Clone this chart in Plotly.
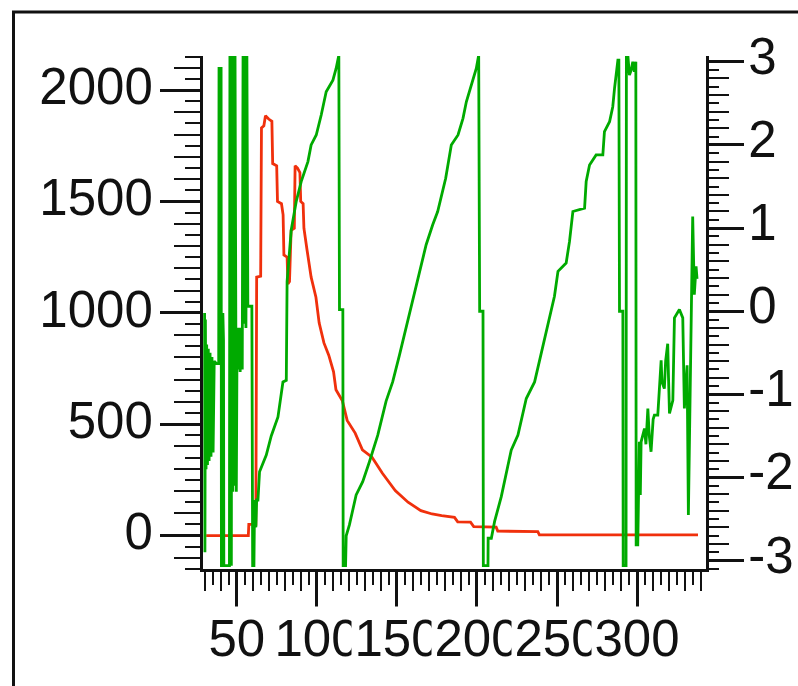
import plotly.graph_objects as go

# Intensity trace (left axis)
red_x = [31, 57.3, 57.6, 62.0, 62.5, 65.0, 65.5, 67, 68, 70, 72, 72.5, 75, 75.5, 78, 79, 79.5,
         81.5, 82, 83, 84, 86, 86.5, 88, 89.5, 90, 91.5, 92, 94, 96.5, 99.5, 101.5, 104.5,
         107.5, 110.5, 112, 116, 119, 124, 128.5, 134.5, 141, 149, 157, 165, 172, 178, 186,
         188, 196, 198, 212, 213, 238, 239, 338]
red_y = [0, 0, 50, 50, 1160, 1165, 1830, 1840, 1885, 1870, 1860, 1670, 1660, 1500, 1490, 1440,
         1260, 1250, 1130, 1140, 1370, 1380, 1660, 1650, 1630, 1500, 1490, 1380, 1280, 1160,
         1070, 955, 865, 810, 735, 655, 605, 517, 460, 385, 352, 280, 202, 150, 112, 97, 90,
         82, 62, 60, 40, 38, 20, 18, 3, 3]

# Wrapped phase trace (right axis, radians)
green_x = [30.0, 30.2, 30.5, 30.9, 31.3, 31.8, 32.3, 32.8, 33.4, 34.0, 34.6, 35.3, 36.0, 37.5,
           38.8, 39.0, 40.3, 40.5, 41.2, 41.4, 41.8, 42.0, 45.5, 45.8, 46.5, 46.7, 47.0, 47.6,
           48.0, 48.5, 49.0, 49.8, 50.3, 51.0, 51.5, 52.2, 52.8, 53.5, 54.0, 54.6, 55.2, 55.8,
           56.4, 57.0, 59.5, 60.0, 60.8, 61.2, 62.0, 62.5, 63.3,
           64.3, 68.5, 71.6, 75.8, 78.9, 81.0, 81.5, 84.1, 87.2, 90.3, 94.5, 96.5, 99.7, 102.8,
           105.9, 110.1, 112.1, 113.8, 114.2, 116.3, 116.5, 118.0, 118.4, 120.4, 124.6, 128.7,
           132.9, 138.1, 143.3, 147.4, 151.6, 155.8, 159.9, 164.1, 168.3, 172.4, 175.5, 180.5,
           184.0, 188.2, 191.3, 193.4, 196.5, 199.6, 201.1, 201.7, 203.8, 204.0, 206.9, 207.0,
           209.0, 211.0, 215.2, 218.3, 221.4, 225.6, 230.8, 236.0, 239.1, 244.3, 248.4, 250.6,
           255.7, 257.8, 259.9, 267.2, 268.2, 270.3, 274.4, 278.6, 279.6, 282.8, 284.8, 285.9,
           288.0, 288.6, 289.0, 291.1, 291.3, 293.1, 293.3, 294.2, 295.2, 296.3, 297.3, 298.3,
           299.2, 299.4, 300.4, 301.4, 302.0, 302.5, 304.6, 305.5, 306.7, 307.6, 308.7, 310.0,
           310.8, 312.9, 315.0, 315.5, 317.0, 317.8, 319.1, 319.6, 320.2, 322.3, 323.3, 326.4,
           328.5, 329.5, 331.2, 332.0, 333.2, 334.7, 335.7, 336.8, 337.4]
green_y = [-0.02, -2.9, -0.1, -1.9, -0.4, -1.85, -0.45, -1.8, -0.5, -1.75, -0.55, -1.7, -0.6, -0.63,
           -0.63, 2.92, 2.92, -3.06, -3.06, -0.02, -0.35, -3.06, -3.06, 3.08, 3.08, -3.06, 3.08, -2.17,
           3.08, -2.1, 3.08, -2.17, -0.2, -0.7, -0.2, -0.73, -0.2, -0.7, 3.08, -0.15, 3.08, -0.2,
           3.08, 0.06, 0.06, -3.06, -3.06, -2.27, -2.6, -2.27, -2.27,
           -1.93, -1.73, -1.5, -1.27, -0.85, -0.83, 0.36, 0.98, 1.32, 1.56, 1.80, 2.0, 2.12, 2.36,
           2.64, 2.78, 2.92, 3.08, 0.02, 0.02, -3.06, -3.06, -2.7, -2.57, -2.21, -2.05,
           -1.81, -1.49, -1.08, -0.85, -0.53, -0.2, 0.12, 0.44, 0.80, 1.04, 1.2, 1.6,
           2.0, 2.12, 2.32, 2.52, 2.72, 2.92, 3.08, 0.0, 0.0, -3.06, -3.06, -2.73,
           -2.73, -2.53, -2.23, -1.95, -1.67, -1.49, -1.05, -0.85, -0.59, -0.16, 0.18, 0.48,
           0.58, 0.84, 1.2, 1.24, 1.56, 1.76, 1.88, 1.88, 2.16, 2.28, 2.46, 2.68,
           3.02, 3.02, 0.0, 0.0, -3.06, -3.06, 3.08, 3.08, 2.84, 2.9, 3.0, 2.88,
           3.0, -2.81, -2.81, -1.57, -2.21, -1.57, -1.41, -1.6, -1.17, -1.5, -1.69, -1.3,
           -1.25, -1.25, -0.59, -0.85, -0.93, -0.6, -0.39, -0.8, -1.23, -1.07, -0.08, 0.02,
           -0.08, -1.17, -0.65, -2.45, -0.69, 1.14, 0.2, 0.54, 0.39]

x_tick_vals = [50, 100, 150, 200, 250, 300]
x_tick_text = ["50", "100", "150", "200", "250", "300"]
left_tick_vals = [0, 500, 1000, 1500, 2000]
right_tick_vals = [-3, -2, -1, 0, 1, 2, 3]
right_tick_text = ["-3", "-2", "-1", "0", "1", "2", "3"]

X_RANGE = [29, 343]
LEFT_RANGE = [-150, 2153]
RIGHT_RANGE = [-3.1, 3.07]

W, H = 798, 686
ML, MR, MT, MB = 203, 92, 56, 117
FONT = "Liberation Sans"
LABEL_SIZE = 51
INK = "#111111"

fig = go.Figure()
fig.add_trace(go.Scatter(x=red_x, y=red_y, mode="lines",
                         line=dict(color="#f0300c", width=2.8), yaxis="y", showlegend=False))
fig.add_trace(go.Scatter(x=green_x, y=green_y, mode="lines",
                         line=dict(color="#00aa00", width=2.8), yaxis="y2", showlegend=False))
# empty traces that attach the extra tick-only axes
for xa, ya in [("x2", "y"), ("x", "y3"), ("x", "y4")]:
    fig.add_trace(go.Scatter(x=[None], y=[None], xaxis=xa, yaxis=ya,
                             showlegend=False, hoverinfo="skip"))

common = dict(showgrid=False, zeroline=False, ticks="outside", tickcolor=INK, automargin=False)

fig.update_layout(
    width=W, height=H,
    margin=dict(l=ML, r=MR, t=MT, b=MB, autoexpand=False),
    paper_bgcolor="white", plot_bgcolor="white",
    font=dict(family=FONT, color=INK),
    xaxis=dict(range=X_RANGE, tickvals=x_tick_vals, ticklen=37, tickwidth=2.5,
               showticklabels=False, showline=True, linewidth=3, linecolor=INK,
               minor=dict(dtick=5, tick0=0, ticklen=13, tickwidth=2, ticks="outside",
                          tickcolor=INK),
               **common),
    xaxis2=dict(range=X_RANGE, overlaying="x", anchor="y", side="bottom", dtick=10, tick0=0,
                ticklen=21, tickwidth=2, showticklabels=False, showline=False, **common),
    yaxis=dict(range=LEFT_RANGE, tickvals=left_tick_vals, ticklen=40, tickwidth=2.5,
               tickfont=dict(size=LABEL_SIZE, family=FONT, color=INK),
               ticklabelstandoff=-3, ticklabelshift=-4,
               showline=True, linewidth=3, linecolor=INK,
               minor=dict(dtick=50, tick0=0, ticklen=15, tickwidth=2, ticks="outside",
                          tickcolor=INK),
               **common),
    yaxis3=dict(range=LEFT_RANGE, overlaying="y", anchor="x", side="left", dtick=100, tick0=0,
                ticklen=28, tickwidth=2, showticklabels=False, showline=False, **common),
    yaxis2=dict(range=RIGHT_RANGE, overlaying="y", anchor="x", side="right",
                tickvals=right_tick_vals, ticktext=right_tick_text, ticklen=35, tickwidth=2.5,
                tickfont=dict(size=LABEL_SIZE, family=FONT, color=INK),
                ticklabelstandoff=-6, ticklabelshift=-6,
                showline=True, linewidth=3, linecolor=INK,
                minor=dict(dtick=0.1, tick0=0, ticklen=10, tickwidth=2, ticks="outside",
                           tickcolor=INK),
                **common),
    yaxis4=dict(range=RIGHT_RANGE, overlaying="y", anchor="x", side="right", dtick=0.2, tick0=0,
                ticklen=22, tickwidth=2, showticklabels=False, showline=False, **common),
)

# x tick labels drawn on white boxes so each one masks the edge of its left neighbour
for v, t in zip(x_tick_vals, x_tick_text):
    fig.add_annotation(x=v, xref="x", y=0, yref="paper", yanchor="top", yshift=-37,
                       text=t, showarrow=False, bgcolor="white", borderpad=2.5,
                       font=dict(size=LABEL_SIZE, family=FONT, color=INK))

# outer window frame (top and left edges)
pw = W - ML - MR
ph = H - MT - MB
fx = (13.5 - ML) / pw
fy = (H - MB - 12) / ph
fig.add_shape(type="path", xref="paper", yref="paper",
              path=f"M {fx} -0.5 L {fx} {fy} L 1.5 {fy}",
              line=dict(color=INK, width=3))

fig.write_html("out.html")
